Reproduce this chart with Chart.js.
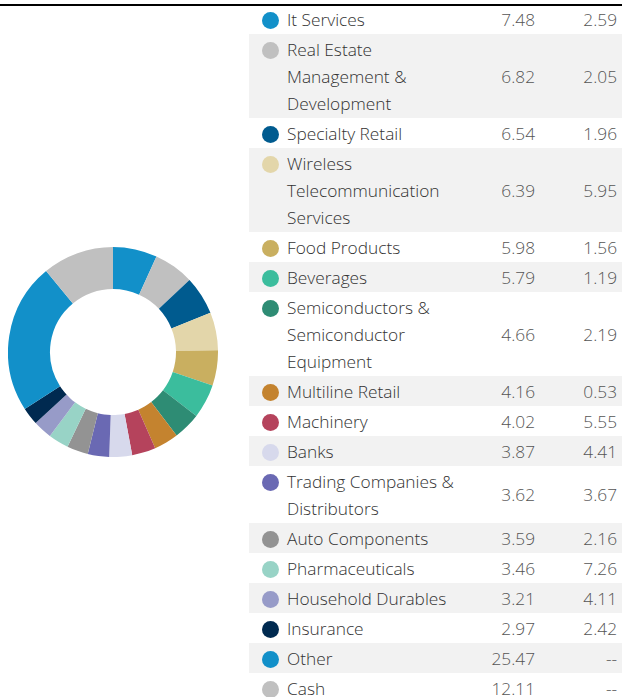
<!DOCTYPE html>
<html>
<head>
<meta charset="utf-8">
<script src="https://cdn.jsdelivr.net/npm/chart.js@4.4.1/dist/chart.umd.min.js"></script>
<style>
    html, body { margin: 0; padding: 0; background: #fff; }
    body { width: 622px; height: 697px; position: relative; overflow: hidden; font-family: 'Open Sans', sans-serif; font-weight: 300; }
    .rule { position: absolute; left: 0; top: 4px; width: 622px; height: 2px; background: #000; z-index: 2; }
    .donut { position: absolute; left: 8px; top: 247px; width: 210px; height: 210px; }
    table.alloc { position: absolute; left: 249px; top: 4px; width: 373px; border-collapse: collapse; table-layout: fixed; }
    table.alloc td { padding: 1.5px 0; font-size: 17.3px; line-height: 27px; }
    table.alloc tr:nth-child(even) td { background: #f2f2f2; }
    td.dot { width: 38px; vertical-align: top; }
    td.dot span { display: block; width: 17px; height: 17px; border-radius: 50%; margin: 6px 0 0 13px; }
    td.lbl { width: 183px; color: #333; vertical-align: top; }
    td.num { color: #555; text-align: right; vertical-align: middle; }
    td.n1 { width: 65px; }
    td.n2 { width: 82px; padding-right: 5px !important; }
</style>
</head>
<body>
<div class="rule"></div>
<div class="donut"><canvas id="donutChart"></canvas></div>
<table class="alloc" id="allocTable"></table>

<script>
// sectors, fund weight (%) and benchmark weight (%)
const sectors = [
    'It Services', 'Real Estate Management & Development', 'Specialty Retail',
    'Wireless Telecommunication Services', 'Food Products', 'Beverages',
    'Semiconductors & Semiconductor Equipment', 'Multiline Retail', 'Machinery',
    'Banks', 'Trading Companies & Distributors', 'Auto Components',
    'Pharmaceuticals', 'Household Durables', 'Insurance', 'Other', 'Cash'
];
const fundWeights = [7.48, 6.82, 6.54, 6.39, 5.98, 5.79, 4.66, 4.16, 4.02, 3.87, 3.62, 3.59, 3.46, 3.21, 2.97, 25.47, 12.11];
const benchWeights = ['2.59', '2.05', '1.96', '5.95', '1.56', '1.19', '2.19', '0.53', '5.55', '4.41', '3.67', '2.16', '7.26', '4.11', '2.42', '--', '--'];
const sectorColors = [
    '#1290c9', '#c0c0c0', '#005b8f', '#e3d6aa', '#c9af60', '#3bbd9d',
    '#2e8c74', '#c4832f', '#b5435c', '#d7d9ec', '#6a69b3', '#939393',
    '#98d3c6', '#979bc8', '#002a50', '#1290c9', '#c0c0c0'
];

document.addEventListener('DOMContentLoaded', function() {
    // Tabel alokasi
    const table = document.getElementById('allocTable');
    sectors.forEach((name, i) => {
        const tr = document.createElement('tr');
        tr.innerHTML =
            '<td class="dot"><span style="background:' + sectorColors[i] + '"></span></td>' +
            '<td class="lbl"></td>' +
            '<td class="num n1">' + fundWeights[i].toFixed(2) + '</td>' +
            '<td class="num n2">' + benchWeights[i] + '</td>';
        tr.querySelector('.lbl').textContent = name;
        table.appendChild(tr);
    });

    // Donut chart
    const ctx = document.getElementById('donutChart').getContext('2d');
    new Chart(ctx, {
        type: 'doughnut',
        data: {
            labels: sectors,
            datasets: [{
                data: fundWeights,
                backgroundColor: sectorColors,
                borderWidth: 0
            }]
        },
        options: {
            responsive: true,
            maintainAspectRatio: false,
            animation: false,
            cutout: '60%',
            layout: { padding: 0 },
            plugins: {
                legend: { display: false },
                tooltip: { enabled: false }
            }
        }
    });
});
</script>
</body>
</html>
